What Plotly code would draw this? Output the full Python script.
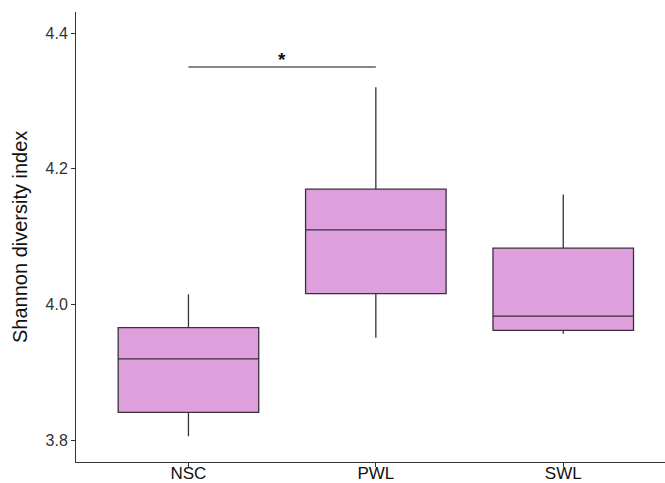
import plotly.graph_objects as go

# ---- data ----
groups = ["NSC", "PWL", "SWL"]
lower_whisker = [3.806, 3.951, 3.957]
q1_values = [3.841, 4.016, 3.962]
median_values = [3.920, 4.110, 3.983]
q3_values = [3.966, 4.170, 4.083]
upper_whisker = [4.015, 4.320, 4.162]

y_tick_values = [3.8, 4.0, 4.2, 4.4]
y_tick_labels = ["3.8", "4.0", "4.2", "4.4"]
y_title = "Shannon diversity index"

sig_pair = ["NSC", "PWL"]
sig_level = 4.35
sig_label = "*"

fig = go.Figure()
fig.add_trace(go.Box(
    x=groups,
    q1=q1_values,
    median=median_values,
    q3=q3_values,
    lowerfence=lower_whisker,
    upperfence=upper_whisker,
    fillcolor="#DDA0DD",
    line=dict(color="#3a2f3a", width=1.3),
    whiskerwidth=0,
    width=0.75,
    boxpoints=False,
    showlegend=False,
))

# significance bracket
fig.add_trace(go.Scatter(
    x=sig_pair, y=[sig_level, sig_level], mode="lines",
    line=dict(color="#111111", width=1.2), showlegend=False, hoverinfo="skip",
))
mid = (groups.index(sig_pair[0]) + groups.index(sig_pair[1])) / 2
fig.add_annotation(x=mid, y=sig_level, xref="x", yref="y", text="<b>" + sig_label + "</b>",
                   showarrow=False, yanchor="bottom", yshift=-5,
                   font=dict(family="Liberation Sans", size=19, color="#111111"))

# y-axis title
fig.add_annotation(x=0, y=0.5, xref="paper", yref="paper", text=y_title,
                   textangle=-90, showarrow=False, xanchor="center", yanchor="middle",
                   xshift=-56,
                   font=dict(family="Liberation Sans", size=20, color="#111111"))

fig.update_layout(
    width=665, height=483,
    margin=dict(l=76, r=0, t=12, b=21),
    paper_bgcolor="white", plot_bgcolor="white",
    font=dict(family="Liberation Sans", color="#222222"),
)
fig.update_xaxes(
    type="category", range=[-0.6, 2.543],
    showline=True, linecolor="#333333", linewidth=1,
    ticks="outside", ticklen=4, tickcolor="#333333",
    ticklabelstandoff=-8,
    showgrid=False, zeroline=False, automargin=False,
    tickfont=dict(family="Liberation Sans", size=17, color="#111111"),
)
fig.update_yaxes(
    range=[3.768, 4.431],
    tickvals=y_tick_values, ticktext=y_tick_labels,
    showline=True, linecolor="#333333", linewidth=1,
    ticks="outside", ticklen=4, tickcolor="#333333",
    showgrid=False, zeroline=False, automargin=False,
    tickfont=dict(family="Liberation Sans", size=16, color="#333333"),
)

fig.write_html("out.html")
